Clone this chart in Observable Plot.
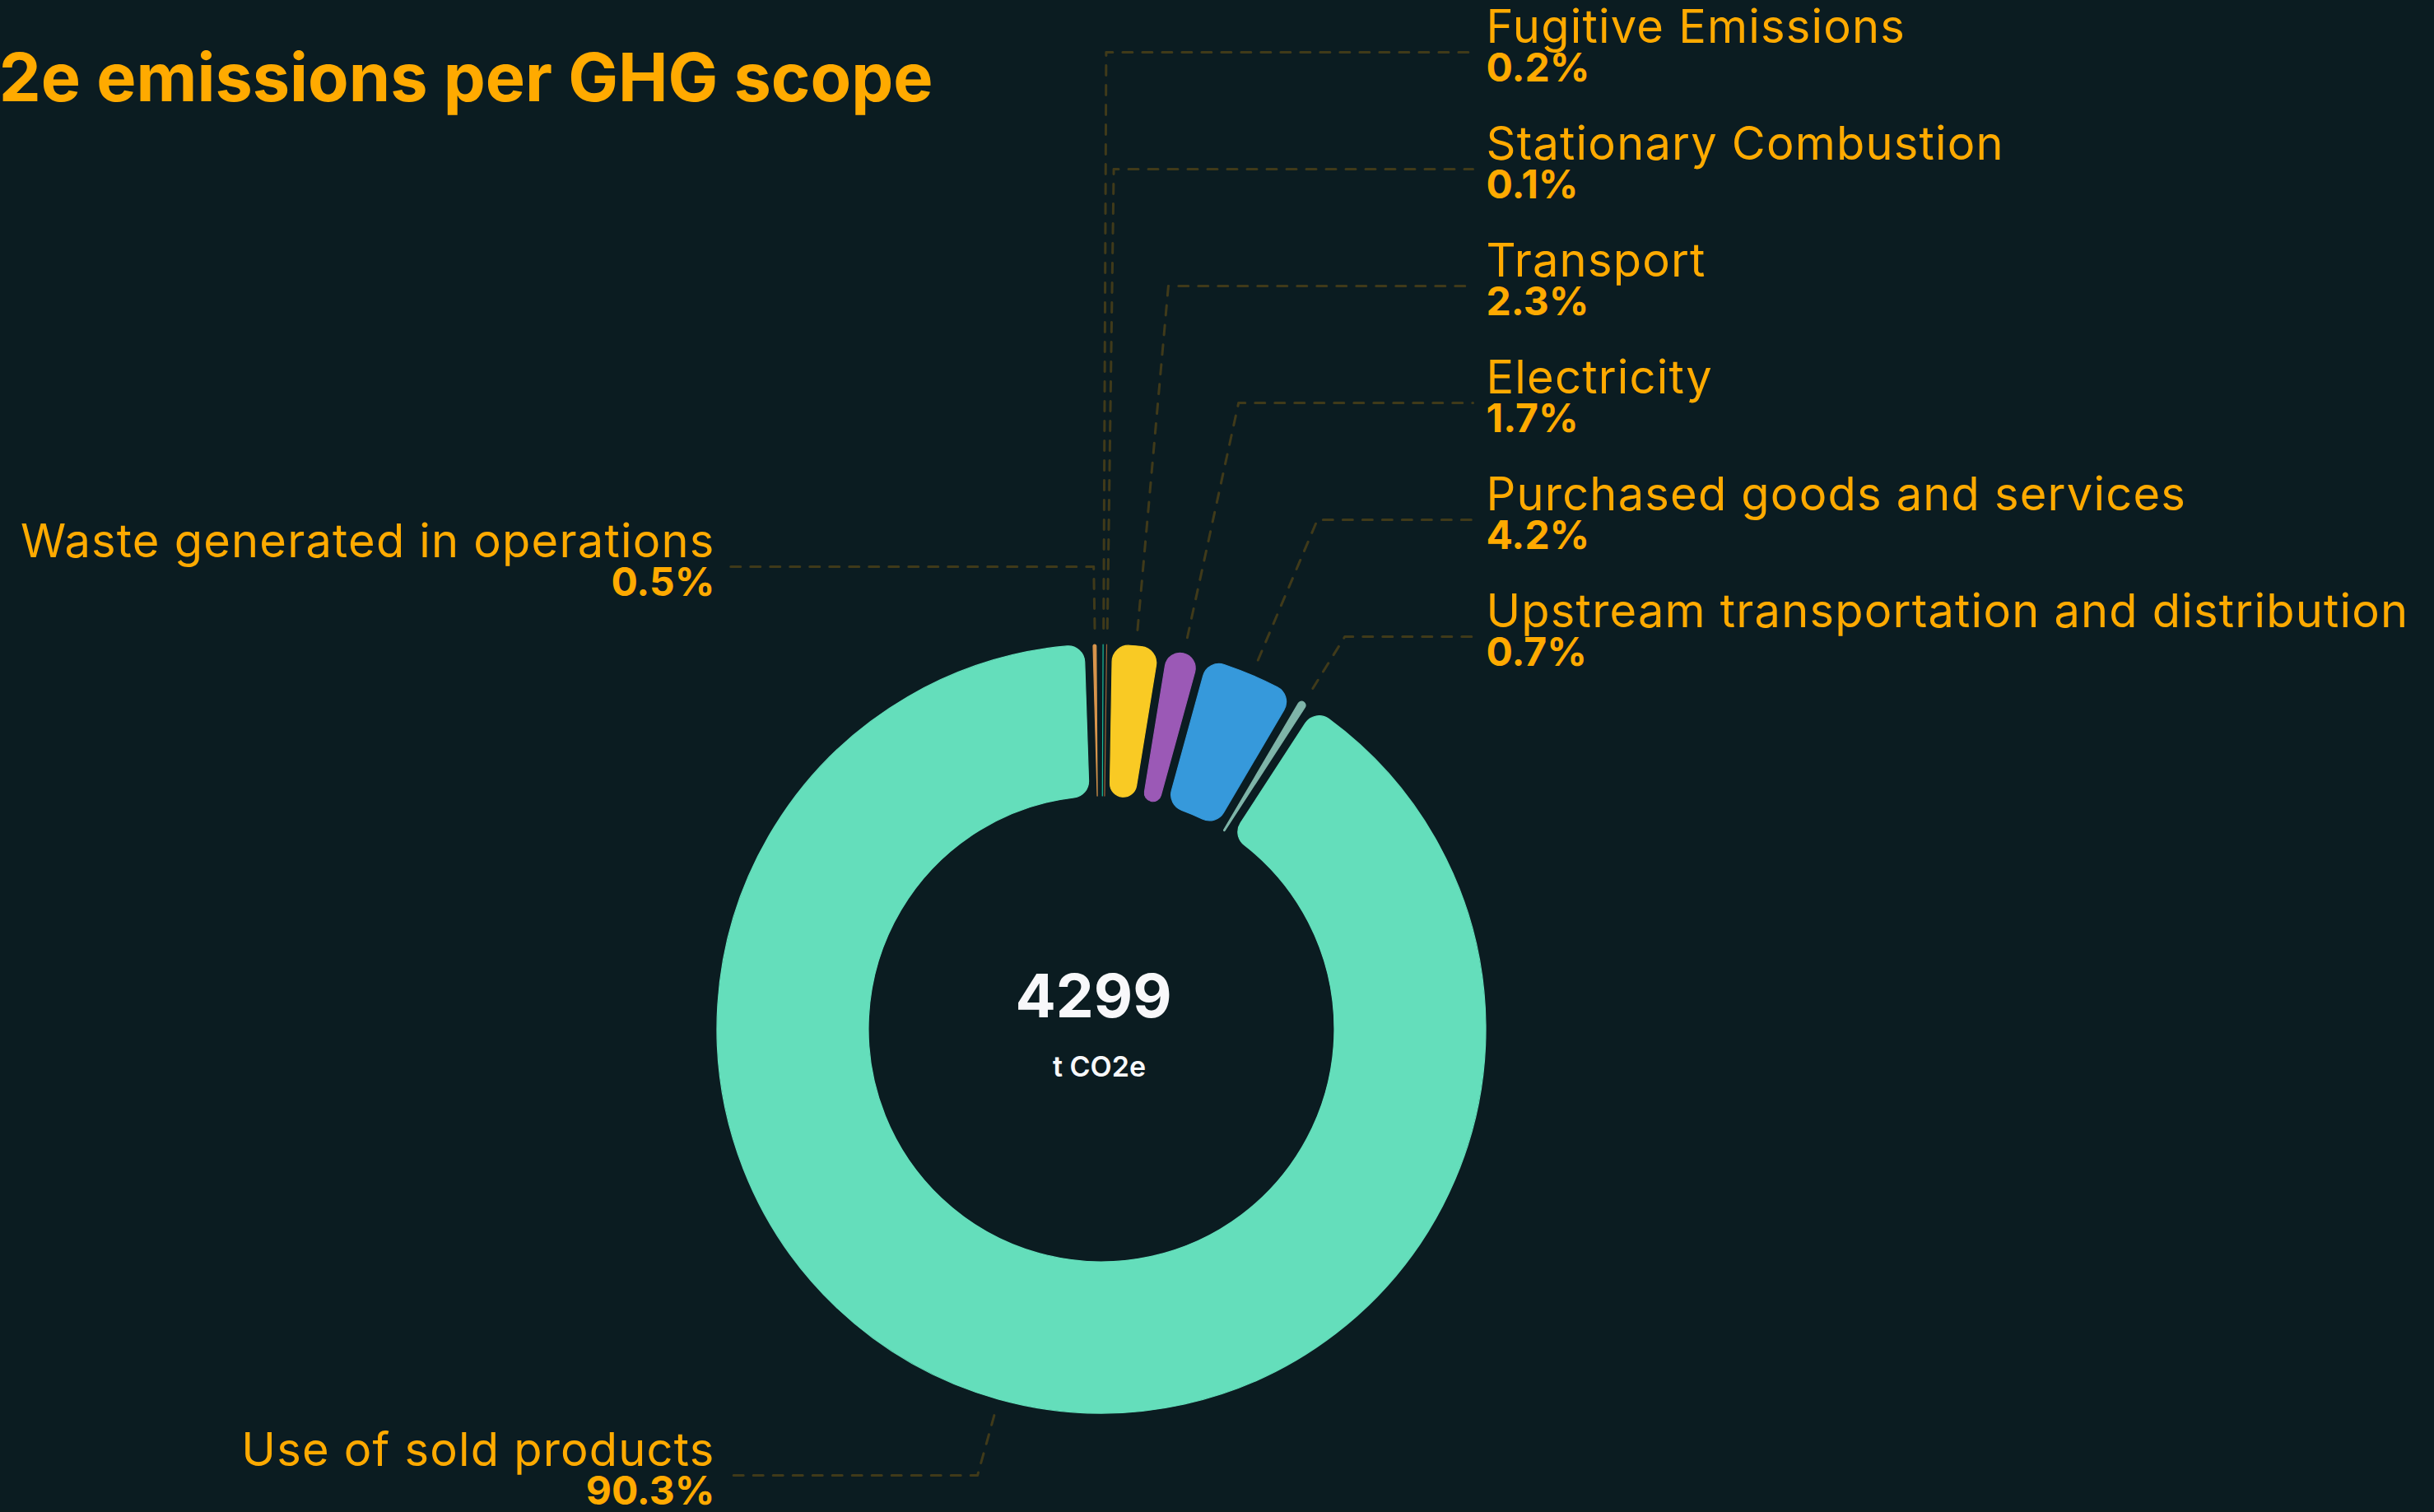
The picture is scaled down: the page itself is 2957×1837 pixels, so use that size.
<!DOCTYPE html>
<html>
<head>
<meta charset="utf-8">
<script src="https://cdn.jsdelivr.net/npm/d3@7"></script>
<script src="https://cdn.jsdelivr.net/npm/@observablehq/plot@0.6"></script>
<style>
html, body { margin: 0; padding: 0; background: #0B1C21; overflow: hidden; }
#chart svg { display: block; }
</style>
</head>
<body>
<div id="chart"></div>
<script>
// ---------------- data ----------------
const title = "CO2e emissions per GHG scope";
const totalValue = "4299";
const totalUnit = "t CO2e";
const categories = [
  "Use of sold products",
  "Waste generated in operations",
  "Fugitive Emissions",
  "Stationary Combustion",
  "Transport",
  "Electricity",
  "Purchased goods and services",
  "Upstream transportation and distribution"
];
const shares = [90.3, 0.5, 0.2, 0.1, 2.3, 1.7, 4.2, 0.7];
const palette = ["#64DEBB", "#D9954C", "#1ABC9C", "#A0643A", "#F9CA24", "#9B59B6", "#3699DB", "#7FB5A9"];

// ---------------- layout ----------------
const W = 2957, H = 1837;
const CX = 1338, CY = 1250;          // pixel centre of ring
const R_OUT = 467, R_IN = 283;
const START = 33.02 * Math.PI / 180;  // clockwise from 12 o'clock
const LEADER_R = 487;
const TEXT_ORANGE = "#FFAA00";
const rightSlots = [63, 205, 347, 489, 631, 773];   // pixel y of leader rows, right side, top→bottom
const leftSlots = [688, 1792];                       // pixel y of leader rows, left side, top→bottom
const LABEL_DX = 451;
const TEXT_DX = 467;

const toY = py => CY - py;
const toX = px => px - CX;

const rows = categories.map((c, i) => ({category: c, share: shares[i]}));
const arcs = d3.pie().sort(null).value(d => d.share)
  .startAngle(START).endAngle(START + 2 * Math.PI)(rows);

const withMid = arcs.map(a => {
  let mid = (a.startAngle + a.endAngle) / 2;
  mid = ((mid % (2 * Math.PI)) + 2 * Math.PI) % (2 * Math.PI);
  const right = mid > 0 && mid < Math.PI;
  return {a, mid, right};
});
const rightItems = withMid.filter(d => d.right).sort((p, q) => p.mid - q.mid);
const leftItems = withMid.filter(d => !d.right).sort((p, q) => Math.cos(q.mid) - Math.cos(p.mid));
rightItems.forEach((d, k) => d.slot = toY(rightSlots[k]));
leftItems.forEach((d, k) => d.slot = toY(leftSlots[k]));

const leaderPts = [];
const labels = [];
for (const d of withMid) {
  const s = Math.sin(d.mid), c = Math.cos(d.mid);
  const cat = d.a.data.category;
  leaderPts.push({cat, x: LEADER_R * s, y: LEADER_R * c});
  leaderPts.push({cat, x: d.slot * s / c, y: d.slot});
  leaderPts.push({cat, x: d.right ? LABEL_DX : -LABEL_DX, y: d.slot});
  labels.push({
    name: cat,
    pct: d.a.data.share.toFixed(1) + "%",
    right: d.right,
    x: d.right ? TEXT_DX : -TEXT_DX - 3,
    nameY: d.slot + 12,
    pctY: d.slot - 35
  });
}
const rightLabels = labels.filter(d => d.right);
const leftLabels = labels.filter(d => !d.right);

const NAME_FS = 56, PCT_FS = 48;

const ringMark = (index, scales, values, dims, context) => {
  const cx = scales.x(0), cy = scales.y(0);
  const k = scales.x(1) - scales.x(0);
  const color = scales.color || d3.scaleOrdinal(categories, palette);
  const arc = d3.arc().innerRadius(R_IN * k).outerRadius(R_OUT * k)
    .padAngle(0.02).cornerRadius(20 * k);
  const g = d3.create("svg:g").attr("transform", `translate(${cx},${cy})`);
  g.selectAll("path").data(arcs).join("path")
    .attr("d", arc)
    .attr("fill", d => color(d.data.category))
    .attr("stroke", d => color(d.data.category))
    .attr("stroke-width", 1.2)
    .attr("stroke-linejoin", "round");
  return g.node();
};

const nameOpts = (anchor) => ({x: "x", y: "nameY", text: "name", textAnchor: anchor, fill: TEXT_ORANGE,
  fontSize: NAME_FS, fontWeight: 400, lineAnchor: "middle", dy: -0.32 * NAME_FS, className: "slice-name"});
const pctOpts = (anchor) => ({x: "x", y: "pctY", text: "pct", textAnchor: anchor, fill: TEXT_ORANGE,
  fontSize: PCT_FS, fontWeight: 700, lineAnchor: "middle", dy: -0.32 * PCT_FS});

const plot = Plot.plot({
  width: W,
  height: H,
  margin: 0,
  x: {domain: [toX(0), toX(W)], axis: null},
  y: {domain: [toY(H), toY(0)], axis: null},
  color: {domain: categories, range: palette},
  style: {background: "#0B1C21", fontFamily: "Inter, 'Noto Sans', sans-serif", overflow: "visible"},
  marks: [
    Plot.line(leaderPts, {x: "x", y: "y", z: "cat", stroke: TEXT_ORANGE, strokeOpacity: 0.22,
      strokeWidth: 3, strokeDasharray: "12,12"}),
    ringMark,
    Plot.text(rightLabels, nameOpts("start")),
    Plot.text(leftLabels, nameOpts("end")),
    Plot.text(rightLabels, pctOpts("start")),
    Plot.text(leftLabels, pctOpts("end")),
    Plot.text([title], {x: toX(1133), y: toY(122), text: d => d, textAnchor: "end", fill: TEXT_ORANGE,
      fontSize: 81, fontWeight: 700, lineAnchor: "middle", dy: -0.32 * 81}),
    Plot.text([totalValue], {x: toX(1328), y: toY(1235), text: d => d, fill: "#F8F8FA",
      fontSize: 73, fontWeight: 700, lineAnchor: "middle", dy: -0.32 * 73}),
    Plot.text([totalUnit], {x: toX(1335), y: toY(1307), text: d => d, fill: "#F8F8FA",
      fontSize: 34, fontWeight: 600, lineAnchor: "middle", dy: -0.32 * 34})
  ]
});
// slightly wider tracking for the category names, to match the reference face
d3.select(plot).selectAll("g.slice-name text, .slice-name text").style("letter-spacing", "1.2px");
document.getElementById("chart").appendChild(plot);
</script>
</body>
</html>
